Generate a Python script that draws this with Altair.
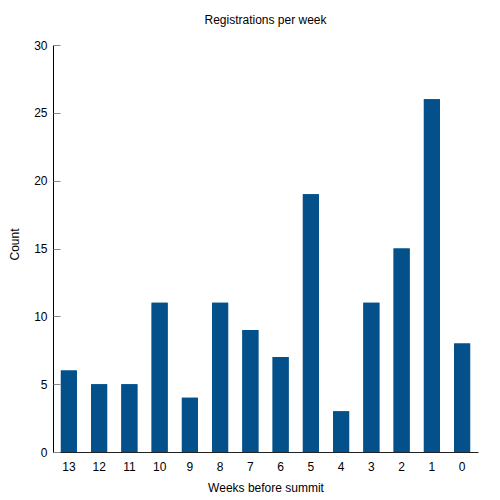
import altair as alt
import pandas as pd

weeks = ["13", "12", "11", "10", "9", "8", "7", "6", "5", "4", "3", "2", "1", "0"]
counts = [6, 5, 5, 11, 4, 11, 9, 7, 19, 3, 11, 15, 26, 8]

df = pd.DataFrame({"week": weeks, "count": counts})

FONT = "Liberation Sans"
BAR = "#03508a"

xenc = alt.X(
    "week:N",
    sort=weeks,
    scale=alt.Scale(paddingInner=0.47, paddingOuter=0.26),
    axis=alt.Axis(
        title="Weeks before summit",
        labelAngle=0,
        ticks=False,
        tickSize=0,
        labelPadding=9,
        domainColor="#222222",
        labelColor="#000000",
        titleColor="#000000",
        labelFontSize=12,
        titleFontSize=12,
        titleFontWeight="normal",
        titlePadding=10,
        grid=False,
    ),
)

yscale = alt.Scale(domain=[0, 30], nice=False)

base = alt.Chart(df)

bars = base.mark_bar(color=BAR).encode(
    x=xenc,
    y=alt.Y(
        "count:Q",
        scale=yscale,
        axis=alt.Axis(
            title="Count",
            values=[0, 5, 10, 15, 20, 25, 30],
            ticks=False,
            tickSize=0,
            labelPadding=6,
            domainColor="#000000",
            labelColor="#000000",
            titleColor="#000000",
            labelFontSize=12,
            titleFontSize=12,
            titleFontWeight="normal",
            titlePadding=12,
            titleY=199,
            grid=False,
        ),
    ),
)

ticks_layer = base.mark_bar(color=BAR).encode(
    x=xenc,
    y=alt.Y(
        "count:Q",
        scale=yscale,
        axis=alt.Axis(
            orient="left",
            title=None,
            values=[0, 5, 10, 15, 20, 25, 30],
            labels=False,
            domain=False,
            ticks=True,
            tickSize=7,
            tickColor="#888888",
            offset=-7,
            grid=False,
        ),
    ),
)

chart = (
    alt.layer(bars, ticks_layer)
    .resolve_axis(y="independent")
    .properties(
        width=425,
        height=407,
        title=alt.TitleParams(
            "Registrations per week",
            fontSize=12,
            fontWeight="normal",
            font=FONT,
            color="#000000",
            anchor="middle",
            offset=12,
        ),
        autosize=alt.AutoSizeParams(type="none"),
        padding={"left": 45, "top": 37, "right": 14, "bottom": 46},
    )
    .configure(font=FONT)
    .configure_view(stroke=None)
    .configure_axis(labelFont=FONT, titleFont=FONT)
)

chart.save("out.html", embed_options={"renderer": "svg", "actions": False})
